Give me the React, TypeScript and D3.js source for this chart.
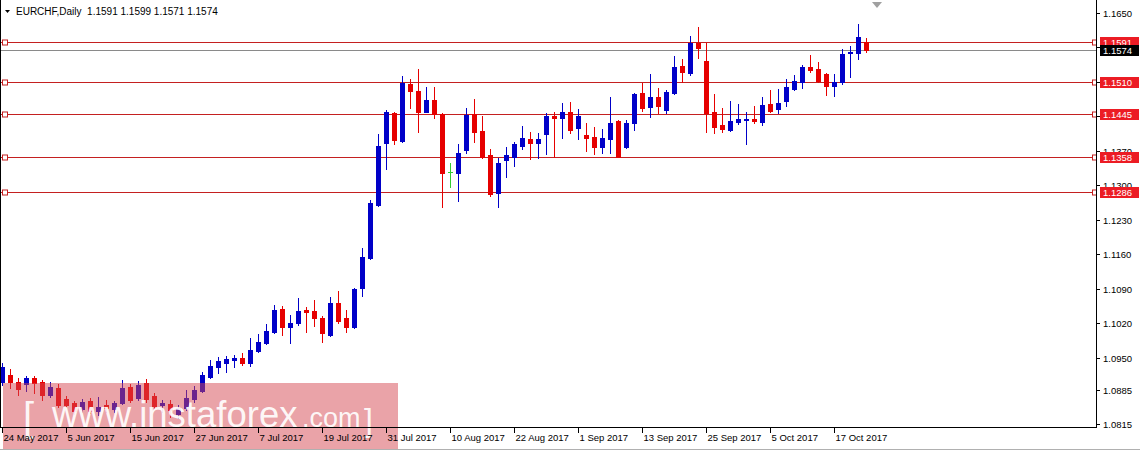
import React from 'react';
import * as d3 from 'd3';

const symbolTitle = 'EURCHF,Daily  1.1591 1.1599 1.1571 1.1574';

const opens = [
  1.0900, 1.0914, 1.0900, 1.0896, 1.0908, 1.0900, 1.0874, 1.0888, 1.0866, 1.0858,
  1.0845, 1.0862, 1.0841, 1.0854, 1.0845, 1.0858, 1.0890, 1.0868, 1.0898, 1.0872,
  1.0854, 1.0856, 1.0835, 1.0848, 1.0866, 1.0882, 1.0910, 1.0931, 1.0939, 1.0945,
  1.0949, 1.0939, 1.0963, 1.0980, 1.1002, 1.1049, 1.1012, 1.1020, 1.1047, 1.1045,
  1.1030, 1.0996, 1.1061, 1.1030, 1.1012, 1.1091, 1.1152, 1.1260, 1.1386, 1.1447,
  1.1390, 1.1506, 1.1492, 1.1449, 1.1473, 1.1445, 1.1327, 1.1325, 1.1372, 1.1445,
  1.1410, 1.1362, 1.1285, 1.1351, 1.1358, 1.1380, 1.1394, 1.1386, 1.1404, 1.1441,
  1.1437, 1.1449, 1.1417, 1.1402, 1.1398, 1.1378, 1.1394, 1.1431, 1.1378, 1.1427,
  1.1488, 1.1459, 1.1479, 1.1453, 1.1488, 1.1542, 1.1528, 1.1589, 1.1552, 1.1449,
  1.1423, 1.1412, 1.1429, 1.1433, 1.1435, 1.1429, 1.1465, 1.1455, 1.1471, 1.1496,
  1.1510, 1.1540, 1.1536, 1.1526, 1.1502, 1.1510, 1.1569, 1.1569, 1.1591,
];
const highs = [
  1.0939, 1.0927, 1.0908, 1.0912, 1.0912, 1.0904, 1.0900, 1.0896, 1.0872, 1.0862,
  1.0866, 1.0868, 1.0870, 1.0864, 1.0862, 1.0904, 1.0896, 1.0902, 1.0906, 1.0878,
  1.0864, 1.0864, 1.0854, 1.0884, 1.0892, 1.0921, 1.0945, 1.0951, 1.0953, 1.0955,
  1.0959, 1.0990, 1.0998, 1.1018, 1.1057, 1.1055, 1.1037, 1.1071, 1.1053, 1.1067,
  1.1034, 1.1073, 1.1085, 1.1047, 1.1091, 1.1173, 1.1270, 1.1404, 1.1453, 1.1449,
  1.1522, 1.1516, 1.1536, 1.1500, 1.1500, 1.1447, 1.1345, 1.1384, 1.1457, 1.1475,
  1.1441, 1.1374, 1.1356, 1.1378, 1.1388, 1.1421, 1.1408, 1.1406, 1.1447, 1.1449,
  1.1467, 1.1469, 1.1455, 1.1427, 1.1419, 1.1415, 1.1479, 1.1433, 1.1433, 1.1488,
  1.1508, 1.1526, 1.1498, 1.1494, 1.1563, 1.1557, 1.1603, 1.1622, 1.1589, 1.1486,
  1.1457, 1.1471, 1.1465, 1.1449, 1.1461, 1.1479, 1.1494, 1.1496, 1.1516, 1.1524,
  1.1544, 1.1565, 1.1550, 1.1528, 1.1526, 1.1577, 1.1583, 1.1628, 1.1599,
];
const lows = [
  1.0894, 1.0888, 1.0874, 1.0882, 1.0878, 1.0864, 1.0870, 1.0850, 1.0850, 1.0835,
  1.0839, 1.0837, 1.0833, 1.0839, 1.0839, 1.0856, 1.0860, 1.0864, 1.0860, 1.0848,
  1.0839, 1.0829, 1.0827, 1.0843, 1.0860, 1.0880, 1.0908, 1.0919, 1.0921, 1.0931,
  1.0935, 1.0933, 1.0961, 1.0978, 1.1000, 1.0996, 1.0980, 1.1016, 1.1002, 1.1014,
  1.0982, 1.0994, 1.1020, 1.1002, 1.1010, 1.1075, 1.1150, 1.1258, 1.1333, 1.1384,
  1.1388, 1.1457, 1.1408, 1.1449, 1.1437, 1.1256, 1.1297, 1.1268, 1.1366, 1.1388,
  1.1356, 1.1279, 1.1256, 1.1317, 1.1339, 1.1374, 1.1354, 1.1356, 1.1364, 1.1358,
  1.1396, 1.1406, 1.1394, 1.1370, 1.1364, 1.1366, 1.1366, 1.1358, 1.1376, 1.1412,
  1.1451, 1.1439, 1.1447, 1.1447, 1.1486, 1.1510, 1.1524, 1.1559, 1.1408, 1.1406,
  1.1408, 1.1410, 1.1425, 1.1384, 1.1427, 1.1423, 1.1449, 1.1447, 1.1461, 1.1494,
  1.1498, 1.1530, 1.1510, 1.1484, 1.1482, 1.1506, 1.1520, 1.1557, 1.1571,
];
const closes = [
  1.0931, 1.0900, 1.0886, 1.0908, 1.0898, 1.0874, 1.0890, 1.0854, 1.0854, 1.0841,
  1.0860, 1.0841, 1.0850, 1.0848, 1.0858, 1.0888, 1.0864, 1.0894, 1.0866, 1.0852,
  1.0858, 1.0843, 1.0848, 1.0868, 1.0884, 1.0914, 1.0933, 1.0943, 1.0947, 1.0949,
  1.0939, 1.0965, 1.0982, 1.1004, 1.1047, 1.1012, 1.1020, 1.1045, 1.1043, 1.1030,
  1.1000, 1.1061, 1.1024, 1.1012, 1.1089, 1.1154, 1.1264, 1.1380, 1.1449, 1.1392,
  1.1508, 1.1492, 1.1449, 1.1473, 1.1445, 1.1325, 1.1327, 1.1366, 1.1443, 1.1408,
  1.1358, 1.1283, 1.1345, 1.1362, 1.1384, 1.1396, 1.1386, 1.1394, 1.1441, 1.1437,
  1.1449, 1.1412, 1.1441, 1.1396, 1.1378, 1.1396, 1.1427, 1.1358, 1.1427, 1.1486,
  1.1457, 1.1479, 1.1461, 1.1490, 1.1540, 1.1530, 1.1589, 1.1579, 1.1447, 1.1419,
  1.1415, 1.1431, 1.1435, 1.1435, 1.1431, 1.1463, 1.1451, 1.1467, 1.1500, 1.1512,
  1.1540, 1.1534, 1.1512, 1.1502, 1.1510, 1.1567, 1.1571, 1.1601, 1.1574,
];

const levels = [1.1591, 1.1510, 1.1445, 1.1358, 1.1286];
const bidPrice = 1.1574;
const priceTicks = [1.1650, 1.1580, 1.1510, 1.1440, 1.1370, 1.1300, 1.1230, 1.1160, 1.1090, 1.1020, 1.0950, 1.0885, 1.0815];
const dateLabels = [
  '24 May 2017', '5 Jun 2017', '15 Jun 2017', '27 Jun 2017', '7 Jul 2017', '19 Jul 2017', '31 Jul 2017',
  '10 Aug 2017', '22 Aug 2017', '1 Sep 2017', '13 Sep 2017', '25 Sep 2017', '5 Oct 2017', '17 Oct 2017',
];
const dateLabelStep = 8;

const W = 1140;
const H = 452;
const plotRight = 1096;
const plotBottom = 427;
const FONT = '"Liberation Sans", Arial, sans-serif';
const BULL = '#0000c8';
const BEAR = '#e60000';
const DOJI = '#33cc33';
const LEVEL = '#c42020';

export default function App() {
  const n = opens.length;
  const x = d3.scaleLinear().domain([0, n - 1]).range([2, 2 + 8 * (n - 1)]);
  const y = d3.scaleLinear().domain([1.0815, 1.165]).range([424, 13]);
  const py = (v: number) => Math.round(y(v));

  // tick labels fully hidden behind a price box are not drawn (as in the reference)
  const boxPrices = [...levels, bidPrice];
  const visibleTicks = priceTicks.filter((t) => boxPrices.every((b) => Math.abs(py(t) - py(b)) > 4));

  const candles = d3.range(n).map((i) => {
    const cx = Math.round(x(i));
    const o = opens[i], c = closes[i];
    const color = o === c ? DOJI : c > o ? BULL : BEAR;
    const top = Math.min(py(o), py(c));
    const bot = Math.max(py(o), py(c));
    return (
      <g key={i}>
        <line x1={cx + 0.5} x2={cx + 0.5} y1={py(highs[i])} y2={py(lows[i]) + 1} stroke={color} strokeWidth={1} />
        {o === c ? (
          <line x1={cx - 2} x2={cx + 3} y1={top + 0.5} y2={top + 0.5} stroke={color} strokeWidth={1} />
        ) : (
          <rect x={cx - 2} y={top} width={5} height={Math.max(1, bot - top + 1)} fill={color} />
        )}
      </g>
    );
  });

  return (
    <svg width={W} height={H} style={{ position: 'absolute', left: 0, top: 0, display: 'block', background: '#fff' }}
      fontFamily={FONT}>
      <rect x={0} y={0} width={W} height={H} fill="#fff" />
      {/* title */}
      <path d="M5,10 L10,10 L7.5,13 Z" fill="#000" />
      <text x={16} y={15} fontSize={10} fill="#000" xmlSpace="preserve" style={{ whiteSpace: 'pre' }}>{symbolTitle}</text>
      {/* chart shift marker */}
      <path d="M872,2 L882,2 L877,8 Z" fill="#a0a0a0" />

      {/* horizontal levels */}
      {levels.map((lv, k) => {
        const yy = py(lv) + 0.5;
        return (
          <g key={'lv' + k}>
            <line x1={0} x2={plotRight} y1={yy} y2={yy} stroke={LEVEL} strokeWidth={1} />
            <rect x={2.5} y={yy - 2.5} width={5} height={5} fill="#fff" stroke={LEVEL} strokeWidth={1} />
            <rect x={1092.5} y={yy - 2.5} width={4} height={5} fill="#fff" stroke={LEVEL} strokeWidth={1} />
          </g>
        );
      })}
      <line x1={0} x2={plotRight} y1={py(bidPrice) + 0.5} y2={py(bidPrice) + 0.5} stroke="#8a8a8a" strokeWidth={1} />

      {candles}

      {/* watermark */}
      <rect x={3} y={383} width={395} height={66} fill="rgba(214,72,82,0.5)" />
      <g fill="#fff" fillOpacity={0.92}>
        <text x={23} y={431} fontSize={40} fontWeight={300}>[</text>
        <text x={52} y={427} fontSize={36.5}>www.instaforex</text>
        <text x={302} y={427} fontSize={27}>.com</text>
        <text x={364} y={431} fontSize={32} fontWeight={300}>]</text>
      </g>

      {/* axes */}
      <line x1={plotRight + 0.5} x2={plotRight + 0.5} y1={0} y2={plotBottom + 1} stroke="#000" />
      <line x1={0} x2={plotRight + 1} y1={plotBottom + 0.5} y2={plotBottom + 0.5} stroke="#000" />
      <line x1={0.5} x2={0.5} y1={0} y2={plotBottom} stroke="#000" />
      <line x1={0} x2={W} y1={449.5} y2={449.5} stroke="#b0b0b0" />

      {priceTicks.map((t, k) => {
        const yy = py(t) + 0.5;
        return <line key={'ptl' + k} x1={plotRight} x2={plotRight + 4} y1={yy} y2={yy} stroke="#000" />;
      })}
      {visibleTicks.map((t, k) => {
        const yy = py(t) + 0.5;
        return <text key={'pt' + k} x={1103} y={yy + 3.5} fontSize={9.5} fill="#000">{t.toFixed(4)}</text>;
      })}

      {dateLabels.map((lab, k) => {
        const xx = Math.round(x(k * dateLabelStep)) + 0.5;
        return (
          <g key={'dl' + k}>
            <line x1={xx} x2={xx} y1={plotBottom + 1} y2={plotBottom + 6} stroke="#000" />
            <text x={xx + 1} y={441} fontSize={9.5} fill="#000">{lab}</text>
          </g>
        );
      })}

      {/* level price boxes */}
      {levels.map((lv, k) => {
        const yy = py(lv) + 0.5;
        return (
          <g key={'lb' + k}>
            <rect x={1100} y={yy - 5.5} width={39} height={11} fill="#ec1c24" />
            <text x={1103} y={yy + 3.5} fontSize={9.5} fill="#fff">{lv.toFixed(4)}</text>
          </g>
        );
      })}
      <rect x={1100} y={py(bidPrice) + 0.5 - 5.5} width={39} height={11} fill="#000" />
      <text x={1103} y={py(bidPrice) + 4} fontSize={9.5} fill="#fff">{bidPrice.toFixed(4)}</text>
    </svg>
  );
}
